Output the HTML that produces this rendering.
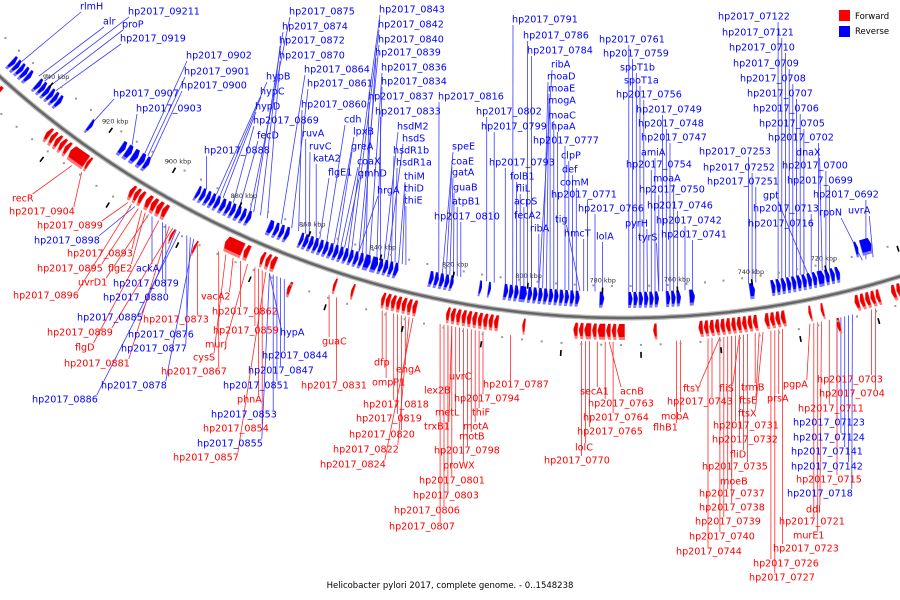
<!DOCTYPE html>
<html><head><meta charset="utf-8"><title>Helicobacter pylori 2017 genome map</title>
<style>
html,body{margin:0;padding:0;background:#fff;}
svg{display:block;}
text{font-family:"DejaVu Sans","Liberation Sans",sans-serif;}
</style></head>
<body>
<svg id="chart" width="900" height="600" viewBox="0 0 900 600" xmlns="http://www.w3.org/2000/svg">
  <g id="lines"></g>
  <g id="genes"></g>
  <g id="axis"></g>
  <g id="labels"></g>
  <g>
    <rect x="839" y="10" width="11" height="11" fill="#ff0000"/>
    <text x="855" y="19" font-size="8.5" fill="#000">Forward</text>
    <rect x="839" y="26" width="11" height="11" fill="#0000ff"/>
    <text x="855" y="34" font-size="8.5" fill="#000">Reverse</text>
  </g>
  <text x="450" y="588" font-size="8.5" text-anchor="middle" fill="#000">Helicobacter pylori 2017, complete genome. - 0..1548238</text>
</svg>
<script>
// ---- data (kbp) ----
const blueStart = [951,949.6,948.2,946.8,945.4, 942,940.6,939.2,937.8,936.4,935, 924.6, 914,912,910,908,906.5,
 891,889.5,888,886.6,885.2,883.5,882,880.6,879,877.5,876, 869.5,868,866.5,865,
 861,859.6,858.2,856.8,855.4,854,852.6,851.2,849.8,848.4,847,845.6,844.2,842.2,840.2,838.8,837.4,836,834.6,
 825,823.6,822.2,820.8,819.6, 812,809.6,
 805,803.6,802.2,800,798.6,797.2,795.8,794.4,793,791.6,790.2,788.8,787.4,786, 779.5,
 772,770.6,769.2,767.8,766.4,765, 762,760.6,759.2, 755.5, 739.5,
 734,732.6,731.2,729.8,728.4,727,725.6,724.2,722.8,720.8,719.4,718,716.6, 710.2,706.5];
const blueEnd = [952.2,950.8,949.4,948,946.6, 943.2,941.8,940.4,939,937.6,936.2, 925.6, 915.4,913.6,911.6,909.5,907.8,
 892,890.7,889.2,887.8,886.4,884.8,883.2,881.8,880.3,878.7,877.2, 871,869.2,867.7,866.2,
 862,860.8,859.4,858,856.6,855.2,853.8,852.4,851,849.6,848.2,846.8,845.4,844,842,840,838.6,837.2,835.8,
 826.2,824.8,823.4,822,820.6, 812.8,810.4,
 806.2,804.8,803.4,802,799.8,798.4,797,795.6,794.2,792.8,791.4,790,788.6,787.2, 780.8,
 773.2,771.8,770.4,769,767.6,766.2, 763.2,761.8,760.4, 757, 741,
 735.2,733.8,732.4,731,729.6,728.2,726.8,725.4,724,722.6,720.6,719.2,717.8, 711.2,709.5];
const blueLane = blueStart.map((s,i)=> (s>=706 && s<712) ? 1 : 0);

const redStart = [950.5,948.8, 932,930.5,929,927.5,926,920.5,919.5, 906,904.6,903.2,901,899.4,897.8,896.2,
 892,885.5, 874.5,872.8, 868.6,867,865.4, 859.5, 849,844.2,
 836,834.6,833.2,831.8,830.4,829,827.6,
 819,817.6,816.2,814.8,813.4,812,810.6,809.2,807.8,806.4, 799.5,
 786,784.6,782.6,781.2,779,777.6,776.2,774, 765.8,
 754,752.6,751.2,749.8,748.4,747,745.6,744.2,742.8,741.4,740,
 737,735.6,734.2,732.8, 726,722.8, 719.5,
 713.5,712.1,710.7,709.3,708, 703.8,702.4];
const redEnd = [952,950.2, 933.2,931.7,930.2,928.7,927.2,925.5,920.4, 907.2,905.8,904.4,902.4,900.8,899.2,897.6,
 892.7,886.2, 879.5,874.2, 869.6,868.2,866.8, 860.5, 849.8,845,
 837,835.8,834.4,833,831.6,830.2,828.8,
 820,818.8,817.4,816,814.6,813.2,811.8,810.4,809,807.6, 800.3,
 787.2,785.8,784.4,782.4,781,778.8,777.4,776, 766.8,
 755.2,753.8,752.4,751,749.6,748.2,746.8,745.4,744,742.6,741.2,
 738.2,736.8,735.4,734, 726.8,723.6, 720.5,
 714.7,713.3,711.9,710.5,709.1, 705,703.6];
const redLane = redStart.map((s)=> (s===892||s===885.5||s===859.5||s===719.5) ? 1 : 0);

const tickKbp = [950,940,930,920,910,900,890,880,870,860,850,840,830,820,810,800,790,780,770,760,750,740,730,720,710,700];
const tickLabelKbp = [940,920,900,880,860,840,820,800,780,760,740,720];

// labels: [text, textX, textY(center), strand, targetKbp]
const labels = [
["rlmH",80,7,"b",950],["hp2017_09211",128,12,"b",942],["alr",103,22,"b",944],["proP",122,25,"b",940],["hp2017_0919",120,39,"b",938],
["hp2017_0902",186,56,"b",909],["hp2017_0901",184,72,"b",908],["hp2017_0900",181,86,"b",907],["hp2017_0907",113,94,"b",925],["hp2017_0903",136,109,"b",913],
["hypB",266,77,"b",887],["hypC",260,92,"b",886],["hypD",255,107,"b",885],["hp2017_0869",253,121,"b",882],["fecD",257,136,"b",880],["hp2017_0888",204,151,"b",890],
["hp2017_0875",289,12,"b",877],["hp2017_0874",282,27,"b",876],["hp2017_0872",279,41,"b",874],["hp2017_0870",279,56,"b",872],["hp2017_0864",304,70,"b",868],["hp2017_0861",307,84,"b",865],["hp2017_0860",301,105,"b",863],
["ruvA",302,134,"b",861],["ruvC",309,147,"b",860],["katA2",313,159,"b",858],["flgE1",328,173,"b",857],["cdh",344,120,"b",855],["lpxB",353,132,"b",853],["greA",351,147,"b",852],["coaX",357,162,"b",851],["gmhD",358,174,"b",850],["hrgA",377,191,"b",846],
["hp2017_0843",379,10,"b",849],["hp2017_0842",378,25,"b",848],["hp2017_0840",378,40,"b",846],["hp2017_0839",375,53,"b",845],["hp2017_0836",381,68,"b",843],["hp2017_0834",381,82,"b",841],["hp2017_0837",368,97,"b",844],["hp2017_0833",375,112,"b",840],
["hsdM2",397,127,"b",839],["hsdS",402,139,"b",838],["hsdR1b",393,151,"b",837],["hsdR1a",396,163,"b",836],["thiM",404,177,"b",835],["thiD",404,189,"b",834],["thiE",404,201,"b",833],
["hp2017_0816",438,97,"b",824],["speE",452,147,"b",823],["coaE",451,162,"b",822],["gatA",452,173,"b",821],["guaB",453,188,"b",820],["atpB1",452,202,"b",819],["hp2017_0810",434,217,"b",818],
["hp2017_0791",512,20,"b",804],["hp2017_0786",523,36,"b",800],["hp2017_0784",527,51,"b",799],["ribA",551,65,"b",797],["moaD",547,77,"b",796],["moaE",548,89,"b",795],["mogA",548,101,"b",794],["moaC",548,116,"b",793],["hpaA",551,127,"b",792],
["hp2017_0802",476,112,"b",811],["hp2017_0799",481,127,"b",809],["hp2017_0777",533,141,"b",790],["clpP",561,156,"b",789],["def",562,170,"b",788],["comM",560,183,"b",787],["hp2017_0793",489,163,"b",806],
["folB1",510,177,"b",803],["fliL",516,189,"b",802],["acpS",514,202,"b",801],["fecA2",514,216,"b",799],["ribA",530,229,"b",797],["tig",555,220,"b",786],["hmcT",564,234,"b",785],["hp2017_0771",551,195,"b",784],["hp2017_0766",578,209,"b",782],["lolA",596,237,"b",780],
["hp2017_0761",599,40,"b",773],["hp2017_0759",603,54,"b",772],["spoT1b",620,68,"b",771],["spoT1a",624,81,"b",770],["hp2017_0756",616,95,"b",769],["hp2017_0749",636,110,"b",764],["hp2017_0748",638,124,"b",763],["hp2017_0747",641,138,"b",762],
["amiA",641,153,"b",766],["hp2017_0754",626,165,"b",767],["moaA",653,179,"b",761],["hp2017_0750",639,190,"b",765],["hp2017_0746",647,206,"b",760],["pyrH",625,224,"b",768],["hp2017_0742",656,221,"b",758],["tyrS",638,238,"b",765],["hp2017_0741",661,235,"b",756],
["hp2017_07122",718,17,"b",733],["hp2017_07121",722,33,"b",732],["hp2017_0710",729,48,"b",731],["hp2017_0709",733,64,"b",730],["hp2017_0708",740,79,"b",729],["hp2017_0707",747,94,"b",728],["hp2017_0706",753,109,"b",727],["hp2017_0705",759,124,"b",726],["hp2017_0702",768,138,"b",722],
["dnaX",796,153,"b",721],["hp2017_07253",699,152,"b",741],["hp2017_0700",782,166,"b",720],["hp2017_07252",703,168,"b",740],["hp2017_0699",787,181,"b",719],["hp2017_07251",707,182,"b",739],["gpt",763,196,"b",725],["hp2017_0692",813,195,"b",709],["hp2017_0713",753,209,"b",724],["rpoN",819,213,"b",710],["uvrA",848,211,"b",707],["hp2017_0716",748,224,"b",726],
["recR",12,199,"r",923],["hp2017_0904",9,212,"r",920],["hp2017_0899",37,226,"r",906],["hp2017_0898",34,241,"b",904],["hp2017_0893",67,254,"r",902],["hp2017_0895",37,269,"r",903],["flgE2",108,269,"r",901],["ackA",136,269,"b",899],
["uvrD1",78,283,"r",900],["hp2017_0879",113,284,"b",896],["hp2017_0896",13,296,"r",905],["hp2017_0880",103,298,"b",895],["vacA2",201,297,"r",876],["hp2017_0862",212,312,"r",874],["hp2017_0885",77,318,"b",892],["hp2017_0873",143,320,"r",886],
["hp2017_0859",213,331,"r",870],["hypA",280,333,"b",866],["hp2017_0889",47,333,"r",893],["hp2017_0876",128,335,"b",889],["murJ",205,345,"r",872],["flgD",75,348,"r",897],["hp2017_0877",121,349,"b",888],["cysS",193,358,"r",878],
["hp2017_0844",262,356,"b",862],["hp2017_0881",64,364,"r",894],["hp2017_0867",161,372,"r",880],["hp2017_0847",248,371,"b",863],["hp2017_0878",101,386,"b",887],["hp2017_0851",223,386,"b",864],["hp2017_0886",32,400,"b",891],["phnA",237,400,"r",869],
["hp2017_0853",211,415,"b",865],["hp2017_0854",203,429,"r",868],["hp2017_0855",197,444,"b",866],["hp2017_0857",173,458,"r",867],
["guaC",322,342,"r",850],["hp2017_0831",301,386,"r",848],["dfp",374,363,"r",836],["engA",396,370,"r",830],["ompP1",372,383,"r",835],["hp2017_0818",363,405,"r",833],["hp2017_0819",356,419,"r",832],["hp2017_0820",349,435,"r",831],["hp2017_0822",333,450,"r",829],["hp2017_0824",320,465,"r",828],
["lex2B",424,391,"r",819],["uvrC",449,377,"r",816],["hp2017_0787",483,385,"r",803],["hp2017_0794",454,399,"r",810],["metL",435,413,"r",817],["thiF",472,413,"r",811],["trxB1",424,427,"r",818],["motA",463,427,"r",812],["motB",459,437,"r",813],
["hp2017_0798",434,451,"r",814],["proWX",443,466,"r",815],["hp2017_0801",419,481,"r",818],["hp2017_0803",413,496,"r",819],["hp2017_0806",394,511,"r",820],["hp2017_0807",389,527,"r",821],
["secA1",580,392,"r",781],["acnB",620,392,"r",778],["hp2017_0763",588,404,"r",779],["hp2017_0764",583,418,"r",777],["hp2017_0765",577,432,"r",783],["lolC",575,448,"r",784],["hp2017_0770",544,461,"r",785],
["hp2017_0703",817,380,"r",711],["hp2017_0704",819,394,"r",710],["ftsY",683,389,"r",750],["fliS",719,389,"r",745],["trmB",741,388,"r",741],["pgpA",783,385,"r",727],["hp2017_0743",667,402,"r",752],["ftsE",739,401,"r",740],["prsA",767,399,"r",735],
["mobA",661,417,"r",760],["ftsX",738,414,"r",739],["hp2017_0711",798,409,"r",722],["flhB1",653,428,"r",761],["hp2017_0731",713,426,"r",746],["hp2017_07123",793,423,"b",720],["hp2017_0732",712,440,"r",745],["hp2017_07124",793,438,"b",719],
["fliD",730,455,"r",744],["hp2017_07141",791,452,"b",718],["hp2017_0735",702,467,"r",743],["hp2017_07142",791,467,"b",717],["hp2017_0715",796,480,"r",720],["moeB",720,482,"r",747],["hp2017_0737",699,494,"r",748],["hp2017_0718",787,494,"b",716],
["hp2017_0738",699,508,"r",747],["ddl",806,510,"r",724],["hp2017_0739",695,522,"r",749],["hp2017_0721",779,522,"r",726],["hp2017_0740",689,537,"r",750],["murE1",793,536,"r",725],["hp2017_0744",676,552,"r",753],["hp2017_0723",773,549,"r",734],
["hp2017_0726",753,564,"r",737],["hp2017_0727",749,578,"r",736]
];

// ---- scales ----
const NS = "http://www.w3.org/2000/svg";
const CX = 625, CY = -612, R = 930, K0 = 774, RAD_PER_KBP = 0.00415;
function theta(kbp){ return (K0 - kbp) * RAD_PER_KBP; }
function pt(kbp, r){ const t = theta(kbp); return [CX + r*Math.sin(t), CY + r*Math.cos(t)]; }
function arcY(x){ const dx = x - CX; return CY + Math.sqrt(R*R - dx*dx); }
function mk(tag, attrs, parent){ const e = document.createElementNS(NS, tag); for (const k in attrs) e.setAttribute(k, attrs[k]); parent.appendChild(e); return e; }
const f = v => v.toFixed(1);

const gAxis = document.getElementById('axis');
const gGenes = document.getElementById('genes');
const gLines = document.getElementById('lines');
const gLabels = document.getElementById('labels');

// ---- backbone arc ----
(function(){
  let d = "";
  for (let k = 956; k >= 697; k -= 1) { const p = pt(k, R); d += (d ? "L" : "M") + f(p[0]) + "," + f(p[1]); }
  const sh = mk('path', {d:d, fill:'none', stroke:'#bbbbbb', 'stroke-width':5}, gAxis);
  
  
  const ln = mk('path', {d:d, fill:'none', stroke:'#666666', 'stroke-width':2.5}, gAxis);
  
  
})();

// gray dots
for (let k = 955; k >= 698; k -= 5) {
  const a = pt(k + 2.5, R - 32), b = pt(k, R + 27);
  const d1 = mk('rect', {x:f(a[0]-1), y:f(a[1]-1), width:2, height:2, fill:'#999'}, gAxis);
  
  
  const d2 = mk('rect', {x:f(b[0]-1), y:f(b[1]-1), width:2, height:2, fill:'#999'}, gAxis);
  
  
}

// ticks
tickKbp.forEach(k => {
  const major = (k % 20 === 0);
  const r1 = major ? R - 30 : R + 34, r2 = major ? R - 24 : R + 40;
  const a = pt(k, r1), b = pt(k, r2);
  const t = mk('line', {x1:f(a[0]), y1:f(a[1]), x2:f(b[0]), y2:f(b[1]), stroke:'#000', 'stroke-width':1.6}, gAxis);
  
  
});
tickLabelKbp.forEach(k => {
  const p = pt(k, R - 35);
  const tx = mk('text', {x:f(p[0]), y:f(p[1]), 'font-size':6.5, 'text-anchor':'middle', fill:'#333'}, gAxis);
  tx.textContent = k + " kbp";
  
  
});

// ---- genes ----
function geneShape(s, e, r0, r1, pointHigh){
  const len = e - s, head = Math.min(0.5, len*0.45);
  const mid = (r0 + r1)/2;
  let pts;
  if (pointHigh) {
    pts = [pt(s, r0), pt(e-head, r0), pt(e, mid), pt(e-head, r1), pt(s, r1)];
  } else {
    pts = [pt(e, r0), pt(s+head, r0), pt(s, mid), pt(s+head, r1), pt(e, r1)];
  }
  return pts.map(p => f(p[0]) + "," + f(p[1])).join(" ");
}
blueStart.forEach((s, i) => {
  const lane = blueLane[i];
  const r0 = R - 10 - lane*20, r1 = R - 26 - lane*20;
  const back = mk('polygon', {points: geneShape(blueStart[i], blueEnd[i], r0, r1, false), fill:'#7777ff'}, gGenes);
  
  
  const g = mk('polygon', {points: geneShape(blueStart[i], blueEnd[i] - 0.15, r0 - 3, r1, false), fill:'#0000ff'}, gGenes);
  
  
});
redStart.forEach((s, i) => {
  const lane = redLane[i];
  const r0 = R + 6 + lane*18, r1 = R + 22 + lane*18;
  const back = mk('polygon', {points: geneShape(redStart[i], redEnd[i], r0, r1, true), fill:'#ff7777'}, gGenes);
  
  
  const g = mk('polygon', {points: geneShape(redStart[i] + 0.15, redEnd[i], r0, r1 - 3, true), fill:'#ee0000'}, gGenes);
  
  
});

// ---- labels and leader lines ----
labels.forEach(L => {
  const [txt, x, y, strand, kbp] = L;
  const col = strand === 'b' ? '#0000ff' : '#ff0000';
  const t = mk('text', {x:x, y:y, 'font-size':9.6, fill:col, 'dominant-baseline':'central'}, gLabels);
  t.textContent = txt;
  
  
  const w = t.getComputedTextLength ? t.getComputedTextLength() : txt.length*6;
  const above = y < arcY(Math.min(Math.max(x, 0), 900));
  const tp = pt(kbp, above ? R - 26 : R + 24);
  let sx = Math.min(Math.max(tp[0], x + 1), x + w - 1);
  const sy = above ? y + 5 : y - 5;
  const l = mk('line', {x1:f(sx), y1:f(sy), x2:f(tp[0]), y2:f(tp[1]), stroke: strand === 'b' ? '#3b3bff' : '#ff2a2a', 'stroke-width':0.8}, gLines);
  
  
});
</script>
</body></html>
